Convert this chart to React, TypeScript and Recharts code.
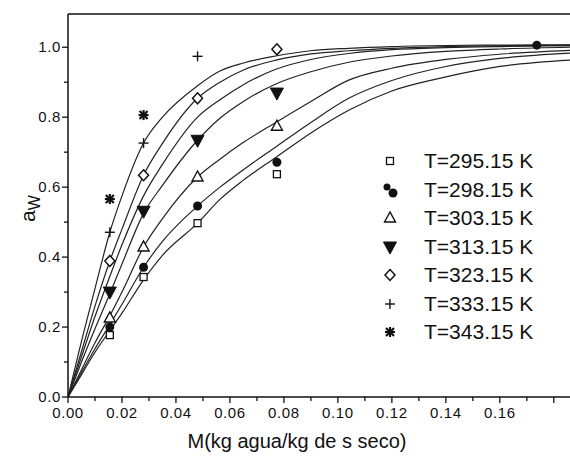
import React from "react";
import {
  ComposedChart,
  Line,
  Scatter,
  XAxis,
  YAxis,
  ReferenceLine,
} from "recharts";

// Moisture content grid used for the fitted curves (kg water / kg dry solid)
const curveM = [0, 0.005, 0.01, 0.0155, 0.02, 0.028, 0.035, 0.048, 0.0563, 0.065, 0.077, 0.09, 0.104, 0.12, 0.14, 0.16, 0.186];
// Fitted curves (top to bottom)
const curveA = [0, 0.16, 0.31, 0.471, 0.575, 0.726, 0.8, 0.89, 0.932, 0.955, 0.975, 0.99, 0.997, 1.002, 1.005, 1.006, 1.007];
const curveB = [0, 0.13, 0.26, 0.389, 0.48, 0.634, 0.725, 0.854, 0.9, 0.935, 0.963, 0.981, 0.99, 0.997, 1.002, 1.004, 1.006];
const curveC = [0, 0.115, 0.23, 0.345, 0.435, 0.575, 0.665, 0.8, 0.85, 0.893, 0.937, 0.965, 0.982, 0.993, 0.999, 1.002, 1.004];
const curveD = [0, 0.1, 0.195, 0.295, 0.38, 0.525, 0.605, 0.734, 0.797, 0.845, 0.895, 0.93, 0.957, 0.975, 0.988, 0.995, 1.0];
const curveE = [0, 0.078, 0.155, 0.232, 0.3, 0.429, 0.51, 0.629, 0.68, 0.728, 0.785, 0.845, 0.906, 0.94, 0.965, 0.98, 0.991];
const curveF = [0, 0.07, 0.138, 0.207, 0.265, 0.371, 0.445, 0.546, 0.6, 0.65, 0.715, 0.785, 0.854, 0.905, 0.945, 0.968, 0.983];
const curveG = [0, 0.064, 0.128, 0.19, 0.24, 0.335, 0.405, 0.497, 0.565, 0.62, 0.685, 0.755, 0.82, 0.875, 0.915, 0.945, 0.963];

// Experimental points
const M295 = [0.0155, 0.028, 0.048, 0.0774];
const aw295 = [0.177, 0.343, 0.497, 0.637];
const M298 = [0.0155, 0.028, 0.048, 0.0774, 0.1737];
const aw298 = [0.2, 0.371, 0.546, 0.671, 1.006];
const M303 = [0.0155, 0.028, 0.048, 0.0774];
const aw303 = [0.226, 0.429, 0.629, 0.774];
const M313 = [0.0155, 0.028, 0.048, 0.0774];
const aw313 = [0.3, 0.531, 0.734, 0.869];
const M323 = [0.0155, 0.028, 0.048, 0.0774];
const aw323 = [0.389, 0.634, 0.854, 0.994];
const M333 = [0.0155, 0.028, 0.048];
const aw333 = [0.471, 0.726, 0.974];
const M343 = [0.0155, 0.028];
const aw343 = [0.566, 0.806];

const legendLabels = ["T=295.15 K", "T=298.15 K", "T=303.15 K", "T=313.15 K", "T=323.15 K", "T=333.15 K", "T=343.15 K"];
const xTicks = [0, 0.01, 0.02, 0.03, 0.04, 0.05, 0.06, 0.07, 0.08, 0.09, 0.1, 0.11, 0.12, 0.13, 0.14, 0.15, 0.16, 0.17, 0.18];
const yTicks = [0, 0.1, 0.2, 0.3, 0.4, 0.5, 0.6, 0.7, 0.8, 0.9, 1.0];

const curveKeys = ["a", "b", "c", "d", "e", "f", "g"];
const curveArrays = [curveA, curveB, curveC, curveD, curveE, curveF, curveG];
const curveData = curveM.map((m, i) => {
  const row: any = { M: m };
  curveKeys.forEach((k, j) => (row[k] = curveArrays[j][i]));
  return row;
});

const pts = (ms: number[], as: number[]) => ms.map((m, i) => ({ M: m, aw: as[i] }));

const FONT = "'Liberation Sans', Arial, Helvetica, sans-serif";
const INK = "#111";

type ShapeKind = "square" | "dot" | "tri" | "dtri" | "diamond" | "plus" | "star" | "dots";

function Marker({ kind, cx, cy }: { kind: ShapeKind; cx: number; cy: number }) {
  switch (kind) {
    case "square":
      return <rect x={cx - 3.5} y={cy - 3.5} width={7} height={7} fill="#fff" stroke={INK} strokeWidth={1.3} />;
    case "dot":
      return <circle cx={cx} cy={cy} r={4.5} fill={INK} />;
    case "dots":
      return (
        <g>
          <circle cx={cx - 3} cy={cy - 3} r={3.5} fill={INK} />
          <circle cx={cx + 3} cy={cy + 3} r={4.5} fill={INK} />
        </g>
      );
    case "tri":
      return (
        <polygon
          points={`${cx},${cy - 6} ${cx - 5.5},${cy + 4} ${cx + 5.5},${cy + 4}`}
          fill="#fff"
          stroke={INK}
          strokeWidth={1.4}
        />
      );
    case "dtri":
      return (
        <polygon points={`${cx - 6.5},${cy - 5} ${cx + 6.5},${cy - 5} ${cx},${cy + 7}`} fill={INK} stroke={INK} strokeWidth={1} />
      );
    case "diamond":
      return (
        <polygon
          points={`${cx},${cy - 5.5} ${cx + 5},${cy} ${cx},${cy + 5.5} ${cx - 5},${cy}`}
          fill="#fff"
          stroke={INK}
          strokeWidth={1.5}
        />
      );
    case "plus":
      return (
        <g stroke={INK} strokeWidth={1.4}>
          <line x1={cx - 5} y1={cy} x2={cx + 5} y2={cy} />
          <line x1={cx} y1={cy - 5} x2={cx} y2={cy + 5} />
        </g>
      );
    case "star":
      return (
        <g stroke={INK} strokeWidth={2.2}>
          <line x1={cx - 5} y1={cy} x2={cx + 5} y2={cy} />
          <line x1={cx} y1={cy - 5} x2={cx} y2={cy + 5} />
          <line x1={cx - 4} y1={cy - 4} x2={cx + 4} y2={cy + 4} />
          <line x1={cx - 4} y1={cy + 4} x2={cx + 4} y2={cy - 4} />
        </g>
      );
  }
  return null;
}

const series: { label: string; data: { M: number; aw: number }[]; kind: ShapeKind; legendKind: ShapeKind }[] = [
  { label: legendLabels[0], data: pts(M295, aw295), kind: "square", legendKind: "square" },
  { label: legendLabels[1], data: pts(M298, aw298), kind: "dot", legendKind: "dots" },
  { label: legendLabels[2], data: pts(M303, aw303), kind: "tri", legendKind: "tri" },
  { label: legendLabels[3], data: pts(M313, aw313), kind: "dtri", legendKind: "dtri" },
  { label: legendLabels[4], data: pts(M323, aw323), kind: "diamond", legendKind: "diamond" },
  { label: legendLabels[5], data: pts(M333, aw333), kind: "plus", legendKind: "plus" },
  { label: legendLabels[6], data: pts(M343, aw343), kind: "star", legendKind: "star" },
];

const XTick = (props: any) => {
  const { x, y, payload, index } = props;
  const major = index % 2 === 0;
  const v = payload.value as number;
  return (
    <g>
      <line x1={x} y1={y} x2={x} y2={y + (major ? 6 : 4)} stroke={INK} strokeWidth={1.3} />
      {major && v <= 0.165 && (
        <text x={x} y={y + 21} textAnchor="middle" fontFamily={FONT} fontSize={15} letterSpacing={0.6} fill={INK}>
          {v.toFixed(2)}
        </text>
      )}
    </g>
  );
};

const YTick = (props: any) => {
  const { x, y, payload, index } = props;
  const major = index % 2 === 0;
  const v = payload.value as number;
  return (
    <g>
      <line x1={x} y1={y} x2={x - (major ? 6 : 4)} y2={y} stroke={INK} strokeWidth={1.3} />
      {major && (
        <text x={x - 7} y={y + 5} textAnchor="end" fontFamily={FONT} fontSize={15} letterSpacing={0.6} fill={INK}>
          {v.toFixed(1)}
        </text>
      )}
    </g>
  );
};

const LegendBox = () => (
  <div style={{ position: "absolute", left: 380, top: 147, width: 190, fontFamily: FONT, fontSize: 21, color: INK }}>
    {series.map((s) => (
      <div key={s.label} style={{ display: "flex", alignItems: "center", height: 28.5 }}>
        <svg width={30} height={28} style={{ display: "block" }}>
          <Marker kind={s.legendKind} cx={10} cy={14} />
        </svg>
        <span style={{ marginLeft: 14, lineHeight: "28px" }}>{s.label}</span>
      </div>
    ))}
  </div>
);

export default function App() {
  return (
    <div style={{ position: "absolute", left: 0, top: 0, width: 570, height: 458, background: "#fff" }}>
      <ComposedChart width={570} height={458} data={curveData} margin={{ top: 14, right: 0, bottom: 0, left: 0 }}>
        <XAxis
          dataKey="M"
          type="number"
          domain={[0, 0.186]}
          ticks={xTicks}
          interval={0}
          allowDataOverflow
          height={61}
          tickSize={0}
          tickMargin={0}
          tick={<XTick />}
          axisLine={{ stroke: INK, strokeWidth: 1.5 }}
          tickLine={false}
          label={{
            content: (p: any) => (
              <text
                x={p.viewBox.x + 229}
                y={p.viewBox.y + 51}
                textAnchor="middle"
                fontFamily={FONT}
                fontSize={20}
                fill={INK}
              >
                M(kg agua/kg de s seco)
              </text>
            ),
          }}
        />
        <YAxis
          type="number"
          domain={[0, 1.095]}
          ticks={yTicks}
          interval={0}
          allowDataOverflow
          width={68}
          tickSize={0}
          tickMargin={0}
          tick={<YTick />}
          axisLine={{ stroke: INK, strokeWidth: 1.5 }}
          tickLine={false}
          label={{
            content: () => (
              <text x={35} y={222} transform="rotate(-90 35 222)" fontFamily={FONT} fontSize={21} fill={INK}>
                a
                <tspan fontSize={16} dy={5}>
                  W
                </tspan>
              </text>
            ),
          }}
        />
        <ReferenceLine y={1.095} stroke={INK} strokeWidth={1.5} />
        {curveKeys.map((k) => (
          <Line
            key={k}
            dataKey={k}
            type="monotone"
            stroke="#222"
            strokeWidth={1.2}
            dot={false}
            activeDot={false}
            legendType="none"
            isAnimationActive={false}
          />
        ))}
        {series.map((s) => (
          <Scatter
            key={s.label}
            name={s.label}
            data={s.data}
            dataKey="aw"
            isAnimationActive={false}
            shape={(p: any) => <Marker kind={s.kind} cx={p.cx} cy={p.cy} />}
          />
        ))}
      </ComposedChart>
      <LegendBox />
    </div>
  );
}
